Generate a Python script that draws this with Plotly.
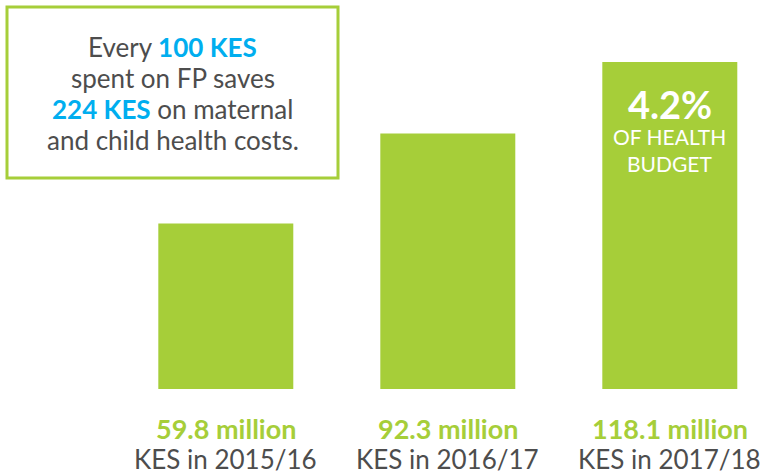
import plotly.graph_objects as go

categories = ["2015/16", "2016/17", "2017/18"]
values = [59.8, 92.3, 118.1]
value_labels = ["59.8 million", "92.3 million", "118.1 million"]
share_label = "4.2%"
share_caption = ["OF HEALTH", "BUDGET"]
box_lines = [
    "Every <b><span style='color:#00aeef'>100 KES</span></b>",
    "spent on FP saves",
    "<b><span style='color:#00aeef'>224 KES</span></b> on maternal",
    "and child health costs.",
]

GREEN = "#a6ce39"
GREY = "#4d4d4d"
W, H = 767, 475

fig = go.Figure()
fig.add_trace(go.Bar(
    x=categories, y=values, marker=dict(color=GREEN, line=dict(width=0)),
    width=0.608, hoverinfo="skip"))

def py(p):
    return 1 - p / H

ann = []
for c, v, lab in zip(categories, values, value_labels):
    ann.append(dict(x=c, xref="x", y=py(428), yref="paper", text=f"<b>{lab}</b>",
                    showarrow=False, font=dict(size=27, color=GREEN),
                    xanchor="center", yanchor="middle"))
    ann.append(dict(x=c, xref="x", y=py(459), yref="paper", text=f"KES in {c}",
                    showarrow=False, font=dict(size=26, color=GREY),
                    xanchor="center", yanchor="middle"))

ann.append(dict(x=categories[2], xref="x", y=py(104), yref="paper",
                text=f"<b>{share_label}</b>", showarrow=False,
                font=dict(size=38, color="white"), xanchor="center", yanchor="middle"))
for txt, yy in zip(share_caption, [137, 163]):
    ann.append(dict(x=categories[2], xref="x", y=py(yy), yref="paper",
                    text=txt, showarrow=False,
                    font=dict(size=21, color="white"), xanchor="center", yanchor="middle"))

for txt, yy in zip(box_lines, [47, 78, 109, 140]):
    ann.append(dict(x=172.5 / W, xref="paper", y=py(yy), yref="paper", text=txt,
                    showarrow=False, font=dict(size=26, color=GREY),
                    xanchor="center", yanchor="middle", align="center"))

fig.add_shape(type="rect", xref="paper", yref="paper",
              x0=7 / W, x1=338 / W, y0=py(178), y1=py(7),
              line=dict(color=GREEN, width=3), fillcolor="white", layer="below")

# scale: pixel positions -> axis ranges
px_per_cat = 222.0
x_left = -225.8 / px_per_cat
x_right = (W - 225.8) / px_per_cat
px_per_val = 327.0 / values[2]
y_bottom = -(H - 389) / px_per_val
y_top = 389 / px_per_val

fig.update_layout(
    width=W, height=H, margin=dict(l=0, r=0, t=0, b=0),
    paper_bgcolor="white", plot_bgcolor="rgba(0,0,0,0)",
    font=dict(family="Lato"),
    showlegend=False,
    xaxis=dict(visible=False, range=[x_left, x_right], type="category"),
    yaxis=dict(visible=False, range=[y_bottom, y_top]),
    annotations=ann,
)
fig.write_html("out.html", config={"displayModeBar": False},
               post_script="document.body.style.margin='0';document.body.style.overflow='hidden';")
